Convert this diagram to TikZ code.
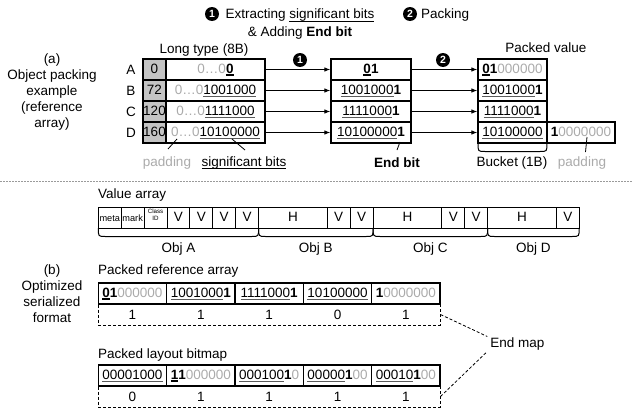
\documentclass[tikz,border=0pt]{standalone}
\usepackage{fontspec}
\setmainfont{Liberation Sans}
\usetikzlibrary{arrows.meta}

\definecolor{padgray}{HTML}{ABABAB}
\definecolor{ulgray}{HTML}{5A5A5A}
\definecolor{colgray}{HTML}{C4C4C4}
\definecolor{sepgray}{HTML}{9A9A9A}

% underlines for bit strings
\newsavebox\bitbox
\newcommand\sig[1]{\sbox\bitbox{#1}\rlap{\textcolor{ulgray}{\rule[-2.8pt]{\wd\bitbox}{1.3pt}}}\usebox\bitbox}
\newcommand\leadbit[1]{\sbox\bitbox{\textbf{#1}}\rlap{\rule[-3.3pt]{\wd\bitbox}{2pt}}\usebox\bitbox}
\newcommand\hul[1]{\sbox\bitbox{#1}\rlap{\rule[-2.4pt]{\wd\bitbox}{0.8pt}}\usebox\bitbox}
\newcommand\eb[1]{\textbf{#1}}
\newcommand\pad[1]{\textcolor{padgray}{#1}}
\newcommand\objbrace[2]{\draw[bracket] (#1,228) .. controls (#1,236.5) .. (#1+7,236.5) -- (#2-7,236.5) .. controls (#2,236.5) .. (#2,228);}

\begin{document}
\begin{tikzpicture}[x=1pt,y=-1pt,
  every node/.style={font=\fontsize{13.5}{16}\selectfont},
  tablecell/.style={draw, line width=1.3pt, minimum height=21pt, inner sep=0pt, text height=10pt, text depth=3pt},
  graycell/.style={tablecell, fill=colgray, minimum width=23pt},
  valcell/.style={draw, line width=1pt, minimum height=21pt, minimum width=22.9pt, inner sep=0pt, text height=10pt, text depth=3pt},
  widecell/.style={valcell, minimum width=68.7pt},
  endrow/.style={draw, dash pattern=on 3pt off 2pt, line width=1pt, minimum height=21pt, minimum width=341.7pt, inner sep=0pt},
  stepmark/.style={circle, fill=black, text=white, inner sep=0pt, minimum size=14pt, font=\bfseries\fontsize{10.5}{10.5}\selectfont},
  feed/.style={line width=0.8pt, -{Latex[length=6pt,width=4.5pt]}},
  pointer/.style={line width=0.8pt},
  bracket/.style={line width=1pt},
  mapline/.style={line width=0.8pt, dash pattern=on 3pt off 2pt},
  tag/.style={inner sep=0pt}
]
\useasboundingbox[fill=white] (0,0) rectangle (633,415);

% ---------- headers ----------
\node[stepmark] (h1) at (212,14) {1};
\node[tag, align=center, font=\fontsize{13.5}{18}\selectfont] (h1text) at (300,24.5)
  {Extracting \hul{significant bits}\\ \& Adding \textbf{End bit}};
\node[stepmark] (h2) at (410,14) {2};
\node[tag, anchor=west] (h2text) at (421,15) {Packing};

% ---------- (a) caption ----------
\node[tag, align=center] (capa) at (52,92) {(a)\\Object packing\\example\\(reference\\array)};

% ---------- long type table ----------
\node[tag] (longlbl) at (204,50) {Long type (8B)};
\node[tag] (rowA) at (131,69.5) {A};
\node[tag] (rowB) at (131,90.5) {B};
\node[tag] (rowC) at (131,111.5) {C};
\node[tag] (rowD) at (131,132.5) {D};

\node[graycell] (ga) at (154.5,69.5) {0};
\node[graycell] (gb) at (154.5,90.5) {72};
\node[graycell] (gc) at (154.5,111.5) {120};
\node[graycell] (gd) at (154.5,132.5) {160};

\node[tablecell, minimum width=99pt] (la) at (215.5,69.5) {\pad{0…0}\leadbit{0}};
\node[tablecell, minimum width=99pt] (lb) at (215.5,90.5) {\pad{0…0}\sig{1001000}};
\node[tablecell, minimum width=99pt] (lc) at (215.5,111.5) {\pad{0…0}\sig{1111000}};
\node[tablecell, minimum width=99pt] (ld) at (215.5,132.5) {\pad{0…0}\sig{10100000}};

% ---------- extracted values ----------
\node[tablecell, minimum width=80pt] (ma) at (371,69.5) {\leadbit{0}\eb{1}};
\node[tablecell, minimum width=80pt] (mb) at (371,90.5) {\sig{1001000}\eb{1}};
\node[tablecell, minimum width=80pt] (mc) at (371,111.5) {\sig{1111000}\eb{1}};
\node[tablecell, minimum width=80pt] (md) at (371,132.5) {\sig{10100000}\eb{1}};

% ---------- packed values ----------
\node[tag] (packlbl) at (546,48) {Packed value};
\node[tablecell, minimum width=69pt] (pa) at (512.5,69.5) {\leadbit{0}\eb{1}\pad{000000}};
\node[tablecell, minimum width=69pt] (pb) at (512.5,90.5) {\sig{1001000}\eb{1}};
\node[tablecell, minimum width=69pt] (pc) at (512.5,111.5) {\sig{1111000}\eb{1}};
\node[tablecell, minimum width=69pt] (pd) at (512.5,132.5) {\sig{10100000}};
\node[tablecell, minimum width=68pt] (pe) at (581,132.5) {\eb{1}\pad{0000000}};

% ---------- step arrows ----------
\node[stepmark] (s1) at (300,60) {1};
\node[stepmark] (s2) at (443,60) {2};
\draw[feed] (la.east) -- (ma.west);
\draw[feed] (lb.east) -- (mb.west);
\draw[feed] (lc.east) -- (mc.west);
\draw[feed] (ld.east) -- (md.west);
\draw[feed] (ma.east) -- (pa.west);
\draw[feed] (mb.east) -- (pb.west);
\draw[feed] (mc.east) -- (pc.west);
\draw[feed] (md.east) -- (pd.west);

% ---------- annotations below the tables ----------
\node[tag, text=padgray] (padl) at (167,163) {padding};
\node[tag] (sigl) at (244,163) {\hul{significant bits}};
\node[tag] (endl) at (397,163) {\textbf{End bit}};
\node[tag] (bucketl) at (512,163) {Bucket (1B)};
\node[tag, text=padgray] (padr) at (582,163) {padding};

\coordinate (padtip) at (177,139);
\coordinate (padfoot) at (168,149);
\coordinate (sigtip) at (232,139);
\coordinate (sigfoot) at (245,150);
\coordinate (endtip) at (400,142);
\coordinate (endfoot) at (397,150);
\coordinate (padrtip) at (587,137);
\coordinate (padrfoot) at (585.5,152);
\draw[pointer] (padtip) -- (padfoot);
\draw[pointer] (sigtip) -- (sigfoot);
\draw[pointer] (endtip) -- (endfoot);
\draw[pointer] (padrtip) -- (padrfoot);

\draw[bracket] (478,143) .. controls (478,151.5) .. (485,151.5) -- (540,151.5) .. controls (547,151.5) .. (547,143);

% ---------- separator ----------
\draw[sepgray, line width=0.8pt, dash pattern=on 2pt off 1pt] (0,181) -- (633,181);

% ---------- (b) caption ----------
\node[tag, align=center] (capb) at (52,294) {(b)\\Optimized\\serialized\\format};

% ---------- value array ----------
\node[tag, anchor=west] (vallbl) at (98,195) {Value array};
\node[valcell, font=\fontsize{9.2}{10}\selectfont] (vmeta) at (109.75,217.5) {meta};
\node[valcell, font=\fontsize{9.2}{10}\selectfont] (vmark) at (132.65,217.5) {mark};
\node[valcell] (vcls) at (155.55,217.5) {};
\node[tag, align=center, font=\fontsize{6.2}{6.8}\selectfont] (vclstext) at (155.55,215) {Class\\ID};
\node[valcell] (v1) at (178.45,217.5) {V};
\node[valcell] (v2) at (201.35,217.5) {V};
\node[valcell] (v3) at (224.25,217.5) {V};
\node[valcell] (v4) at (247.15,217.5) {V};
\node[widecell] (hb) at (292.95,217.5) {H};
\node[valcell] (v5) at (338.75,217.5) {V};
\node[valcell] (v6) at (361.65,217.5) {V};
\node[widecell] (hc) at (407.45,217.5) {H};
\node[valcell] (v7) at (453.25,217.5) {V};
\node[valcell] (v8) at (476.15,217.5) {V};
\node[widecell] (hd) at (521.95,217.5) {H};
\node[valcell] (v9) at (567.75,217.5) {V};

\objbrace{98.3}{258.6}
\objbrace{258.6}{373.1}
\objbrace{373.1}{487.6}
\objbrace{487.6}{579.2}
\node[tag] (obja) at (178.45,249) {Obj A};
\node[tag] (objb) at (315.85,249) {Obj B};
\node[tag] (objc) at (430.35,249) {Obj C};
\node[tag] (objd) at (533.4,249) {Obj D};

% ---------- packed reference array ----------
\node[tag, anchor=west] (reflbl) at (98,271) {Packed reference array};
\node[endrow] (refend) at (269.15,314.5) {};
\node[tablecell, minimum width=68.35pt] (r1) at (132.47,293.5) {\leadbit{0}\eb{1}\pad{000000}};
\node[tablecell, minimum width=68.35pt] (r2) at (200.82,293.5) {\sig{1001000}\eb{1}};
\node[tablecell, minimum width=68.35pt] (r3) at (269.17,293.5) {\sig{1111000}\eb{1}};
\node[tablecell, minimum width=68.35pt] (r4) at (337.52,293.5) {\sig{10100000}};
\node[tablecell, minimum width=68.35pt] (r5) at (405.87,293.5) {\eb{1}\pad{0000000}};
\node[tag] (re1) at (132.47,315) {1};
\node[tag] (re2) at (200.82,315) {1};
\node[tag] (re3) at (269.17,315) {1};
\node[tag] (re4) at (337.52,315) {0};
\node[tag] (re5) at (405.87,315) {1};

% ---------- packed layout bitmap ----------
\node[tag, anchor=west] (laylbl) at (98,355) {Packed layout bitmap};
\node[endrow] (layend) at (269.15,396.5) {};
\node[tablecell, minimum width=68.35pt] (b1) at (132.47,375.5) {\sig{00001000}};
\node[tablecell, minimum width=68.35pt] (b2) at (200.82,375.5) {\leadbit{1}\eb{1}\pad{000000}};
\node[tablecell, minimum width=68.35pt] (b3) at (269.17,375.5) {\sig{000100}\eb{1}\pad{0}};
\node[tablecell, minimum width=68.35pt] (b4) at (337.52,375.5) {\sig{00000}\eb{1}\pad{00}};
\node[tablecell, minimum width=68.35pt] (b5) at (405.87,375.5) {\sig{00010}\eb{1}\pad{00}};
\node[tag] (be1) at (132.47,397) {0};
\node[tag] (be2) at (200.82,397) {1};
\node[tag] (be3) at (269.17,397) {1};
\node[tag] (be4) at (337.52,397) {1};
\node[tag] (be5) at (405.87,397) {1};

% ---------- end map callout ----------
\node[inner xsep=3pt, inner ysep=1pt] (endmap) at (517.5,344) {End map};
\draw[mapline] (refend.east) -- (endmap.north west);
\draw[mapline] (layend.east) -- (endmap.south west);
\end{tikzpicture}
\end{document}
